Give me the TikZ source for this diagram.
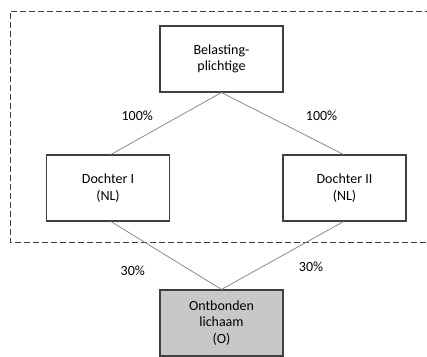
\documentclass[tikz,border=0pt]{standalone}
\usepackage{fontspec}
\setmainfont{Carlito}
\usepackage{xcolor}
\usetikzlibrary{calc,positioning}
\definecolor{boxline}{HTML}{404040}
\definecolor{linkline}{HTML}{8C8C8C}
\definecolor{boxfill}{HTML}{C8C8C8}
\tikzset{
    entity/.style={draw=boxline, line width=1.1pt, minimum width=123pt, minimum height=66pt,
        align=center, font=\fontsize{14}{16.5}\selectfont, inner sep=0pt},
    link/.style={draw=linkline, line width=0.8pt},
    share/.style={font=\fontsize{14}{16}\selectfont, inner sep=1pt}
}
\begin{document}
\begin{tikzpicture}[x=1pt,y=-1pt]
        \useasboundingbox (0,0) rectangle (427,356);
        \draw[boxline, dashed, line width=0.9pt, dash pattern=on 6pt off 3pt] (440,11) -- (10,11) -- (10,242) -- (440,242);

        \draw (221.5,59) node[entity](bel){Belasting-\\plichtige};
        \draw (108,188) node[entity](dl){Dochter I\\(NL)};
        \draw (344.5,188) node[entity](dr){Dochter II\\(NL)};
        \draw (221.5,323) node[entity, fill=boxfill](ont){Ontbonden\\lichaam\\(O)};

        \draw[link] (bel.south) to node[share, pos=0.5, above left=1pt and 12pt]{100\%} ($(dl.north)+(3,0)$);
        \draw[link] (bel.south) to node[share, pos=0.5, above right=1pt and 22pt]{100\%} ($(dr.north)-(1,0)$);
        \draw[link] ($(dl.south)+(3,0)$) to node[share, pos=0.5, below left=9pt and 20pt]{30\%} (ont.north);
        \draw[link] ($(dr.south)-(1,0)$) to node[share, pos=0.5, below right=5pt and 15pt]{30\%} (ont.north);
    \end{tikzpicture}
\end{document}
